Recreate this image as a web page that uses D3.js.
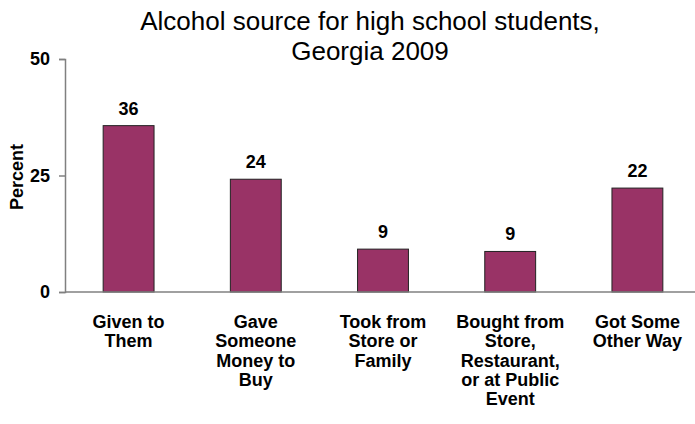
<!DOCTYPE html>
<html>
<head>
<meta charset="utf-8">
<script src="https://cdn.jsdelivr.net/npm/d3@7"></script>
<style>
  body { margin: 0; background: white; }
  svg { display: block; font-family: Arial, "Liberation Sans", sans-serif; }
</style>
</head>
<body>
<div id="chart"></div>
<script>
// Chart data
const categories = [
  ["Given to", "Them"],
  ["Gave", "Someone", "Money to", "Buy"],
  ["Took from", "Store or", "Family"],
  ["Bought from", "Store,", "Restaurant,", "or at Public", "Event"],
  ["Got Some", "Other Way"]
];
const values = [35.7, 24.2, 9.2, 8.7, 22.3];
const valueLabels = ["36", "24", "9", "9", "22"];
const yTicks = [0, 25, 50];
const titleLines = ["Alcohol source for high school students,", "Georgia 2009"];

const width = 695;
const height = 424;

const svg = d3.select("#chart")
  .append("svg")
  .attr("width", width)
  .attr("height", height);

// Scales
const x = d3.scaleBand()
  .domain(d3.range(categories.length))
  .range([65, 701])
  .paddingInner(0.6)
  .paddingOuter(0.3);

const y = d3.scaleLinear().domain([0, 50]).range([292, 59]);

// Title
svg.append("text")
  .attr("x", 370)
  .attr("y", 30)
  .attr("text-anchor", "middle")
  .style("font-size", "26px")
  .selectAll("tspan")
  .data(titleLines)
  .enter()
  .append("tspan")
  .attr("x", 370)
  .attr("dy", (d, i) => i === 0 ? 0 : 30)
  .text(d => d);

// Bars
svg.selectAll("rect.bar")
  .data(values)
  .enter()
  .append("rect")
  .attr("class", "bar")
  .attr("x", (d, i) => x(i))
  .attr("y", d => y(d))
  .attr("width", x.bandwidth())
  .attr("height", d => y(0) - y(d))
  .attr("fill", "#993366")
  .attr("stroke", "#222")
  .attr("stroke-width", 1);

// Value labels
svg.selectAll("text.val")
  .data(values)
  .enter()
  .append("text")
  .attr("class", "val")
  .attr("x", (d, i) => x(i) + x.bandwidth() / 2)
  .attr("y", d => y(d) - 11)
  .attr("text-anchor", "middle")
  .style("font-size", "18px")
  .style("font-weight", "bold")
  .text((d, i) => valueLabels[i]);

// Y axis
const yAxis = svg.append("g")
  .attr("transform", "translate(65,0)")
  .call(d3.axisLeft(y).tickValues(yTicks).tickSize(6).tickPadding(9));
yAxis.select(".domain").attr("stroke", "#808080").attr("stroke-width", 1.5);
yAxis.selectAll(".tick line").attr("stroke", "#808080").attr("stroke-width", 1.5);
yAxis.selectAll(".tick text")
  .attr("fill", "#000")
  .style("font-size", "18px")
  .style("font-weight", "bold")
  .style("font-family", "Arial, 'Liberation Sans', sans-serif");

// X axis line
svg.append("line")
  .attr("x1", 65)
  .attr("x2", 695)
  .attr("y1", y(0))
  .attr("y2", y(0))
  .attr("stroke", "#808080")
  .attr("stroke-width", 1.5);

// Y axis title
svg.append("text")
  .attr("transform", "translate(23,177) rotate(-90)")
  .attr("text-anchor", "middle")
  .style("font-size", "18px")
  .style("font-weight", "bold")
  .text("Percent");

// Category labels
const catText = svg.selectAll("text.cat")
  .data(categories)
  .enter()
  .append("text")
  .attr("class", "cat")
  .attr("text-anchor", "middle")
  .attr("y", 328)
  .style("font-size", "18px")
  .style("font-weight", "bold");

catText.selectAll("tspan")
  .data((d, i) => d.map(line => ({ line, i })))
  .enter()
  .append("tspan")
  .attr("x", d => x(d.i) + x.bandwidth() / 2)
  .attr("dy", (d, j) => j === 0 ? 0 : 19.3)
  .text(d => d.line);
</script>
</body>
</html>
